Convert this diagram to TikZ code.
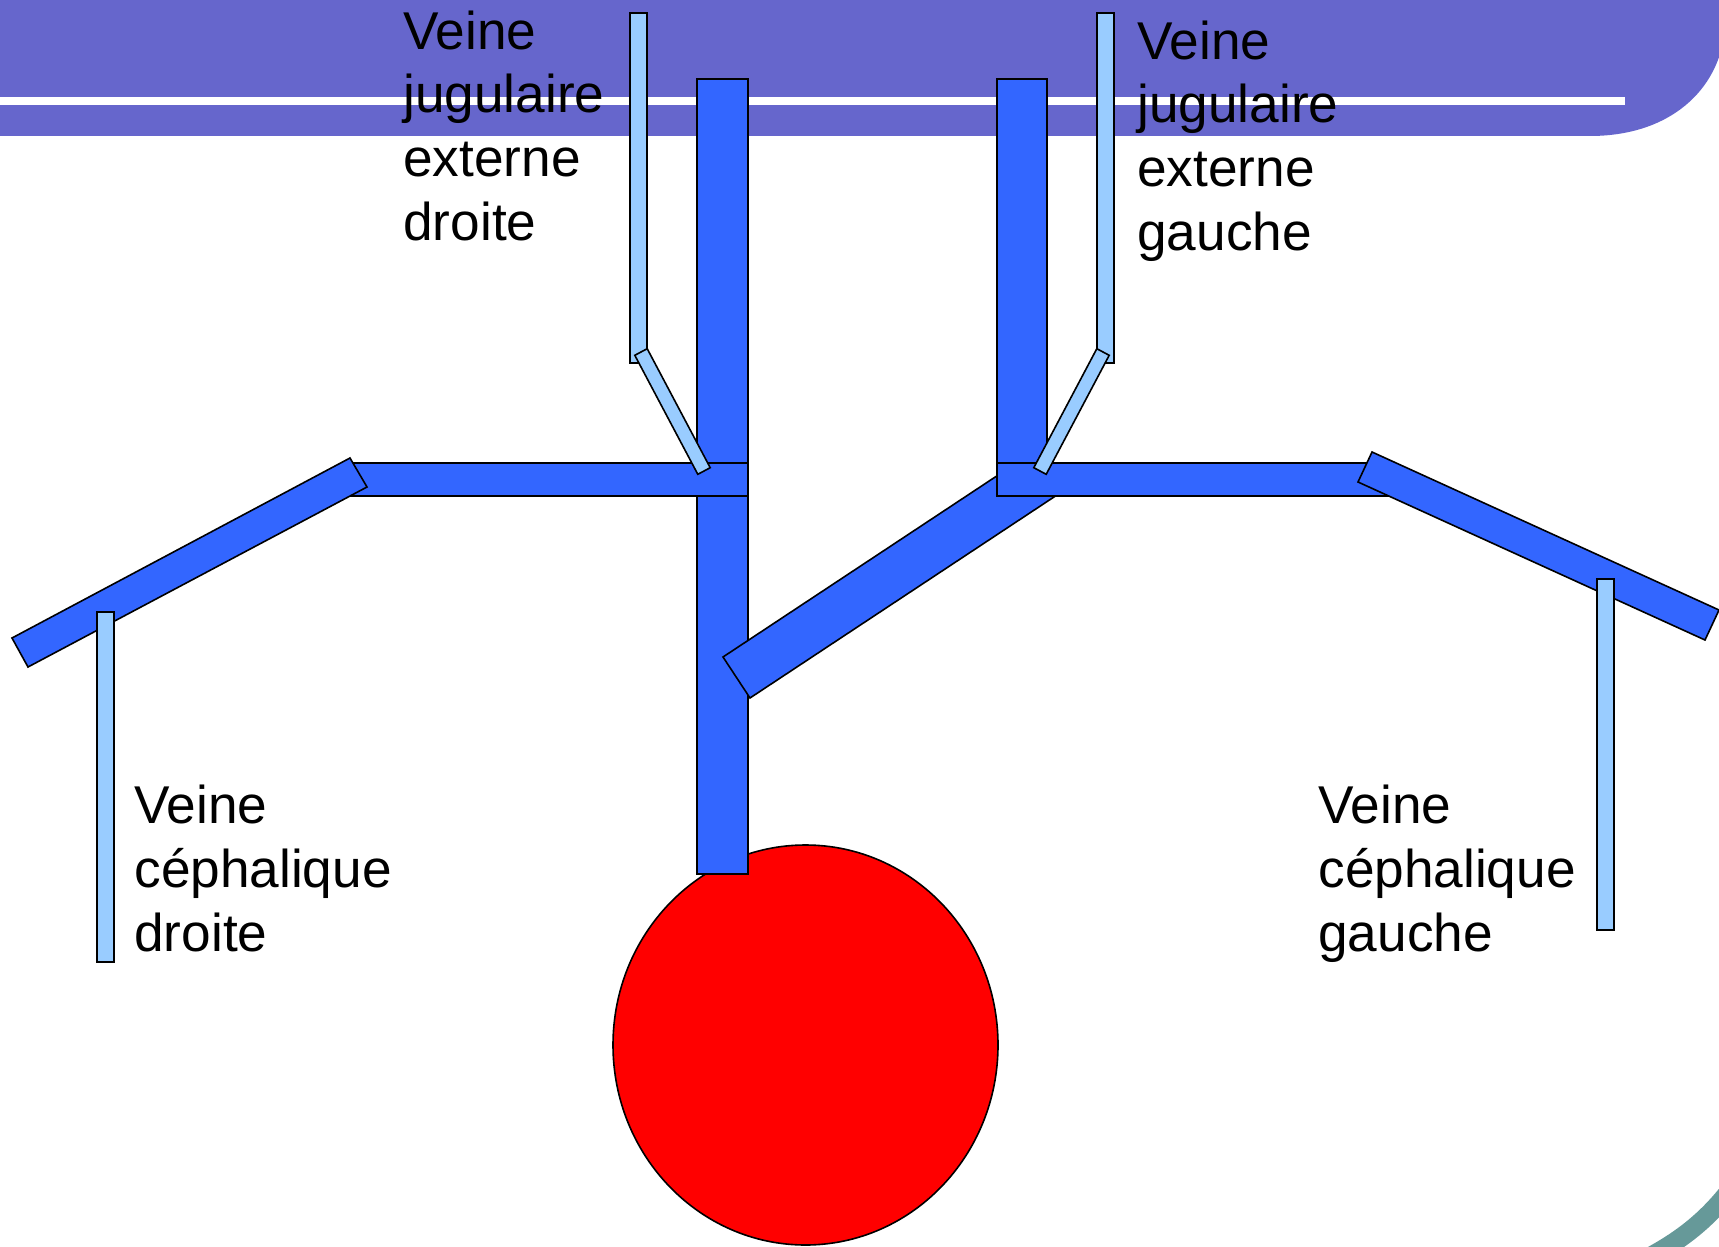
\documentclass[tikz,border=0pt]{standalone}
\usepackage{fontspec}
\setmainfont{Liberation Sans}
\definecolor{bandpurple}{HTML}{6666CC}
\definecolor{veinblue}{HTML}{3366FF}
\definecolor{branchblue}{HTML}{99CCFF}
\definecolor{arcteal}{HTML}{669999}

\begin{document}
\begin{tikzpicture}[
  x=0.5pt, y=-0.5pt,
  vein/.style={draw=black, line width=0.8pt, fill=veinblue},
  branch/.style={draw=black, line width=0.8pt, fill=branchblue},
  heart/.style={draw=black, line width=0.8pt, fill=red},
  lbl/.style={anchor=base west, inner sep=0pt, align=left,
    font=\fontsize{26.6}{31.8}\selectfont}
]
  \useasboundingbox (0,0) rectangle (1719,1247);
  \clip (0,0) rectangle (1719,1247);

  % slide header band and corner arc
  \fill[bandpurple] (0,0) -- (1725,0) -- (1725,30)
    .. controls (1719,90) and (1670,136) .. (1590,136) -- (0,136) -- cycle;
  \fill[white] (0,97) rectangle (1625,105);
  \draw[arcteal, line width=9.5pt] (1634,1265) .. controls (1674,1245) and (1704,1225) .. (1734,1185);

  \draw[heart] (805.5,1045) ellipse [x radius=96.25pt, y radius=100pt];

  % trunks and main veins
  \draw[vein] (697,79) rectangle (748,874);
  \draw[vein] (723,657) -- (750,698) -- (1060,493) -- (1033,452) -- cycle;
  \draw[vein] (997,79) rectangle (1047,496);
  \draw[vein] (345,463) rectangle (748,496);
  \draw[vein] (997,463) rectangle (1392,496);
  \draw[vein] (350,458) -- (367,487) -- (28,667) -- (12,638) -- cycle;
  \draw[vein] (1372,452) -- (1719,610) -- (1705,640) -- (1358,482) -- cycle;

  % jugular and cephalic branches
  \draw[branch] (630,13) rectangle (647,363);
  \draw[branch] (1097,13) rectangle (1114,363);
  \draw[branch] (634.8,355.3) -- (647.2,348.7) -- (710.2,467.7) -- (697.8,474.3) -- cycle;
  \draw[branch] (1109.2,355.3) -- (1096.8,348.7) -- (1033.8,467.7) -- (1046.2,474.3) -- cycle;
  \draw[branch] (97,612) rectangle (114,962);
  \draw[branch] (1597,579) rectangle (1614,930);

  % anchored on the baseline of the last line
  \node[lbl] (jugdroite) at (403,240) {Veine\\jugulaire\\externe\\droite};
  \node[lbl] (juggauche) at (1137,250) {Veine\\jugulaire\\externe\\gauche};
  \node[lbl] (cephdroite) at (134,951) {Veine\\céphalique\\droite};
  \node[lbl] (cephgauche) at (1318,951) {Veine\\céphalique\\gauche};
\end{tikzpicture}
\end{document}
